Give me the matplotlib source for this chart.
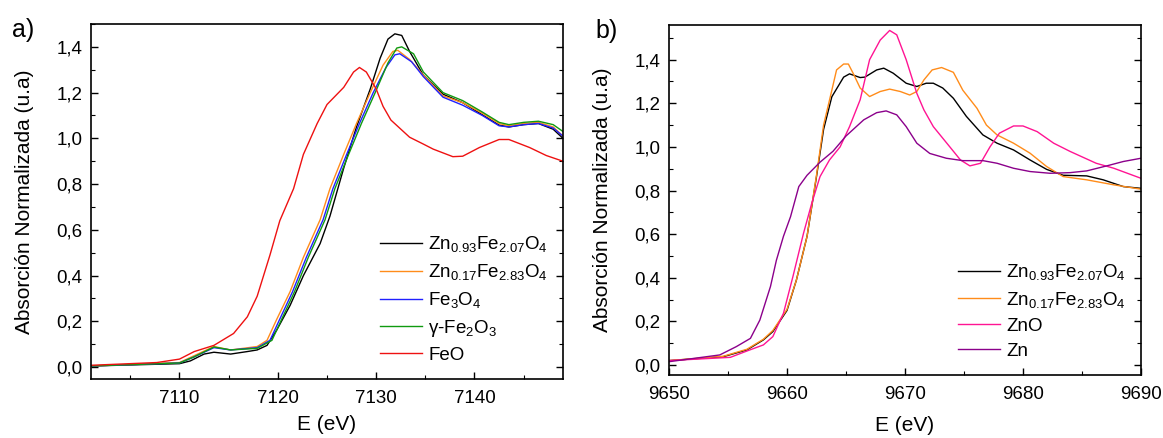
import matplotlib
matplotlib.use('Agg')
import matplotlib.pyplot as plt
from matplotlib.ticker import MultipleLocator, FuncFormatter

plt.rcParams['font.family'] = ['Liberation Sans', 'DejaVu Sans']
plt.rcParams['mathtext.default'] = 'regular'

# ---- panel a) Fe K-edge ----
e_zn093 = [7101, 7110, 7111.1, 7112.5, 7113.5, 7115.2, 7116.9, 7117.9, 7118.9, 7119.9, 7121.25, 7122.6,
           7124.3, 7125.3, 7126.7, 7128, 7129.4, 7130.4, 7131.2, 7131.9, 7132.6, 7133.4, 7134.8, 7136.8,
           7138.8, 7140.8, 7142.5, 7143.5, 7145, 7146.5, 7148, 7149]
a_zn093 = [0.005, 0.015, 0.027, 0.057, 0.065, 0.057, 0.068, 0.075, 0.095, 0.163, 0.27, 0.40,
           0.54, 0.66, 0.87, 1.05, 1.216, 1.35, 1.434, 1.457, 1.45, 1.38, 1.276, 1.193,
           1.156, 1.103, 1.058, 1.05, 1.06, 1.065, 1.04, 1.0]

e_zn017 = [7101, 7110, 7111.5, 7113.5, 7115.2, 7117.9, 7118.9, 7119.9, 7121.25, 7122.6, 7124.3, 7125.3,
           7126.7, 7128, 7129.4, 7130.7, 7131.7, 7132.2, 7133.4, 7134.8, 7136.8, 7138.8, 7140.8, 7142.5,
           7143.5, 7145, 7146.5, 7148, 7149]
a_zn017 = [0.005, 0.02, 0.05, 0.09, 0.075, 0.09, 0.117, 0.21, 0.33, 0.48, 0.644, 0.78,
           0.93, 1.065, 1.20, 1.32, 1.38, 1.385, 1.345, 1.276, 1.186, 1.156, 1.11, 1.065,
           1.055, 1.065, 1.07, 1.05, 1.01]

e_fe3o4 = [7101, 7110, 7111.5, 7113.5, 7115.2, 7117.9, 7119.2, 7120.2, 7121.5, 7122.9, 7124.6, 7125.6,
           7127, 7128.3, 7129.7, 7131, 7131.9, 7132.4, 7133.6, 7134.8, 7136.8, 7138.8, 7140.8, 7142.5,
           7143.5, 7145, 7146.5, 7148, 7149]
a_fe3o4 = [0.005, 0.018, 0.045, 0.085, 0.075, 0.085, 0.117, 0.21, 0.33, 0.48, 0.644, 0.78,
           0.93, 1.065, 1.20, 1.31, 1.365, 1.37, 1.335, 1.27, 1.18, 1.145, 1.10, 1.055,
           1.05, 1.06, 1.065, 1.045, 1.01]

e_fe2o3 = [7101, 7110, 7111.5, 7113.5, 7115.2, 7117.9, 7119.4, 7120.4, 7121.7, 7123.1, 7124.8, 7125.8,
           7127.2, 7128.5, 7129.9, 7131.2, 7132.1, 7132.6, 7133.8, 7134.8, 7136.8, 7138.8, 7140.8, 7142.5,
           7143.5, 7145, 7146.5, 7148, 7149]
a_fe2o3 = [0.005, 0.018, 0.045, 0.088, 0.075, 0.082, 0.117, 0.21, 0.33, 0.48, 0.644, 0.78,
           0.93, 1.065, 1.20, 1.33, 1.395, 1.40, 1.37, 1.29, 1.2, 1.165, 1.115, 1.07,
           1.06, 1.07, 1.075, 1.06, 1.03]

e_feo = [7101, 7107.7, 7110, 7111.5, 7113.5, 7115.5, 7116.9, 7117.9, 7119.2, 7120.2, 7121.6, 7122.6,
         7124, 7125, 7126.7, 7127.7, 7128.3, 7129, 7130, 7130.7, 7131.5, 7133.4, 7134.8, 7135.8,
         7137.8, 7138.8, 7140.5, 7142.5, 7143.5, 7145.6, 7147.3, 7149]
a_feo = [0.008, 0.02, 0.035, 0.068, 0.095, 0.147, 0.22, 0.31, 0.49, 0.64, 0.78, 0.93,
         1.065, 1.148, 1.223, 1.29, 1.31, 1.29, 1.216, 1.14, 1.08, 1.005, 0.975, 0.953,
         0.92, 0.922, 0.96, 0.995, 0.995, 0.96, 0.925, 0.90]

# ---- panel b) Zn K-edge ----
e_b_zn093 = [9650, 9654.6, 9656.6, 9658, 9658.8, 9660, 9660.8, 9661.7, 9662.5, 9663.1, 9663.8, 9664.8,
             9665.3, 9666.2, 9666.6, 9667.6, 9668.2, 9669, 9670.1, 9671, 9671.8, 9672.4, 9673.2, 9674.1,
             9675.2, 9676.6, 9677.8, 9679.2, 9680.6, 9682, 9683.4, 9685.4, 9686.8, 9688.5, 9690]
b_zn093 = [0.02, 0.038, 0.069, 0.115, 0.153, 0.25, 0.39, 0.59, 0.864, 1.08, 1.23, 1.32,
           1.335, 1.318, 1.32, 1.353, 1.361, 1.338, 1.292, 1.277, 1.292, 1.292, 1.27, 1.223,
           1.14, 1.055, 1.017, 0.986, 0.94, 0.897, 0.87, 0.867, 0.849, 0.818, 0.81]

e_b_zn017 = [9650, 9654.6, 9656.6, 9658, 9658.8, 9660, 9660.8, 9661.7, 9662.5, 9663.1, 9663.8, 9664.2,
             9664.8, 9665.2, 9665.6, 9666.2, 9667, 9667.9, 9668.7, 9669.6, 9670.4, 9671, 9671.6, 9672.3,
             9673.1, 9674.1, 9674.9, 9676.1, 9676.9, 9677.8, 9679.2, 9680.6, 9682, 9683.4, 9685.4,
             9687.7, 9690]
b_zn017 = [0.02, 0.04, 0.072, 0.118, 0.158, 0.255, 0.39, 0.59, 0.87, 1.1, 1.26, 1.353,
           1.38, 1.38, 1.338, 1.27, 1.231, 1.254, 1.265, 1.254, 1.238, 1.254, 1.307, 1.353,
           1.364, 1.342, 1.26, 1.177, 1.10, 1.055, 1.017, 0.971, 0.91, 0.864, 0.849,
           0.826, 0.806]

e_zno = [9650, 9655.2, 9656.6, 9658, 9658.8, 9659.7, 9660.5, 9661.4, 9662.1, 9662.8, 9663.6, 9664.5,
         9665.3, 9666.2, 9667, 9667.9, 9668.7, 9669.3, 9670.1, 9671, 9671.6, 9672.4, 9673.8, 9674.7,
         9675.5, 9676.4, 9677.2, 9678, 9679.2, 9680, 9681.2, 9682.6, 9684, 9686.2, 9687.7, 9690]
b_zno = [0.02, 0.035, 0.064, 0.092, 0.13, 0.237, 0.405, 0.604, 0.742, 0.864, 0.94, 1.0,
         1.093, 1.216, 1.40, 1.49, 1.534, 1.514, 1.40, 1.246, 1.17, 1.093, 1.0, 0.94,
         0.913, 0.925, 1.0, 1.063, 1.096, 1.096, 1.07, 1.017, 0.979, 0.925, 0.902, 0.856]

e_zn = [9650, 9654.3, 9655.7, 9656.9, 9657.7, 9658.6, 9659.1, 9659.7, 9660.3, 9661, 9661.7, 9662.8,
        9663.9, 9665, 9666.5, 9667.6, 9668.4, 9669.3, 9670.1, 9671, 9672.1, 9673.5, 9674.9, 9676.6,
        9677.8, 9679.2, 9680.6, 9682.3, 9684, 9685.4, 9687.1, 9688.5, 9690]
b_zn = [0.015, 0.046, 0.084, 0.122, 0.206, 0.36, 0.48, 0.59, 0.68, 0.818, 0.87, 0.93,
        0.98, 1.05, 1.124, 1.157, 1.165, 1.147, 1.093, 1.017, 0.97, 0.948, 0.937, 0.937,
        0.925, 0.902, 0.887, 0.879, 0.882, 0.89, 0.913, 0.933, 0.948]

lab_093 = r'Zn$_{0.93}$Fe$_{2.07}$O$_4$'
lab_017 = r'Zn$_{0.17}$Fe$_{2.83}$O$_4$'

fig = plt.figure(figsize=(11.63, 4.38), dpi=100)
W, H = 1163, 438
ax1 = fig.add_axes([91 / W, 1 - 379 / H, (563 - 91) / W, (379 - 24) / H])
ax2 = fig.add_axes([669 / W, 1 - 375 / H, (1141 - 669) / W, (375 - 25) / H])

lw = 1.0
ax1.plot(e_zn093, a_zn093, color='black', lw=lw, label=lab_093)
ax1.plot(e_zn017, a_zn017, color='#ff8c1a', lw=lw, label=lab_017)
ax1.plot(e_fe3o4, a_fe3o4, color='#2020ff', lw=lw, label=r'Fe$_3$O$_4$')
ax1.plot(e_fe2o3, a_fe2o3, color='#109a10', lw=lw, label=r'$\gamma$-Fe$_2$O$_3$')
ax1.plot(e_feo, a_feo, color='#ee1111', lw=lw, label='FeO')
ax1.set_xlim(7101, 7149)
ax1.set_ylim(-0.052, 1.5)
ax1.xaxis.set_major_locator(MultipleLocator(10))
ax1.xaxis.set_minor_locator(MultipleLocator(5))

ax2.plot(e_b_zn093, b_zn093, color='black', lw=lw, label=lab_093)
ax2.plot(e_b_zn017, b_zn017, color='#ff8c1a', lw=lw, label=lab_017)
ax2.plot(e_zno, b_zno, color='#ff1493', lw=lw, label='ZnO')
ax2.plot(e_zn, b_zn, color='#8b008b', lw=lw, label='Zn')
ax2.set_xlim(9650, 9690)
ax2.set_ylim(-0.046, 1.559)
ax2.xaxis.set_major_locator(MultipleLocator(10))
ax2.xaxis.set_minor_locator(MultipleLocator(5))

comma = FuncFormatter(lambda v, p: ('%.1f' % v).replace('.', ','))
for ax in (ax1, ax2):
    ax.yaxis.set_major_locator(MultipleLocator(0.2))
    ax.yaxis.set_minor_locator(MultipleLocator(0.1))
    ax.yaxis.set_major_formatter(comma)
    ax.tick_params(which='both', direction='in', right=True, top=False, labelsize=13.5)
    ax.tick_params(axis='y', which='major', pad=6)
    ax.tick_params(axis='x', which='major', pad=8)
    ax.tick_params(which='major', length=5, width=1)
    ax.tick_params(which='minor', length=3, width=0.8)
    for s in ax.spines.values():
        s.set_linewidth(1.2)
    ax.set_ylabel('Absorción Normalizada (u.a)', fontsize=15, labelpad=16)
    ax.legend(loc='lower right', frameon=False, fontsize=13.5, handlelength=2.2,
              handletextpad=0.35, labelspacing=0.42, borderaxespad=0.4)

ax1.set_xlabel('E (eV)', fontsize=15, labelpad=6)
ax2.set_xlabel('E (eV)', fontsize=15, labelpad=9)

fig.text(12 / W, 1 - 30 / H, 'a)', fontsize=18, va='center')
fig.text(595 / W, 1 - 31 / H, 'b)', fontsize=18, va='center')

fig.savefig('out.png', dpi=100)
